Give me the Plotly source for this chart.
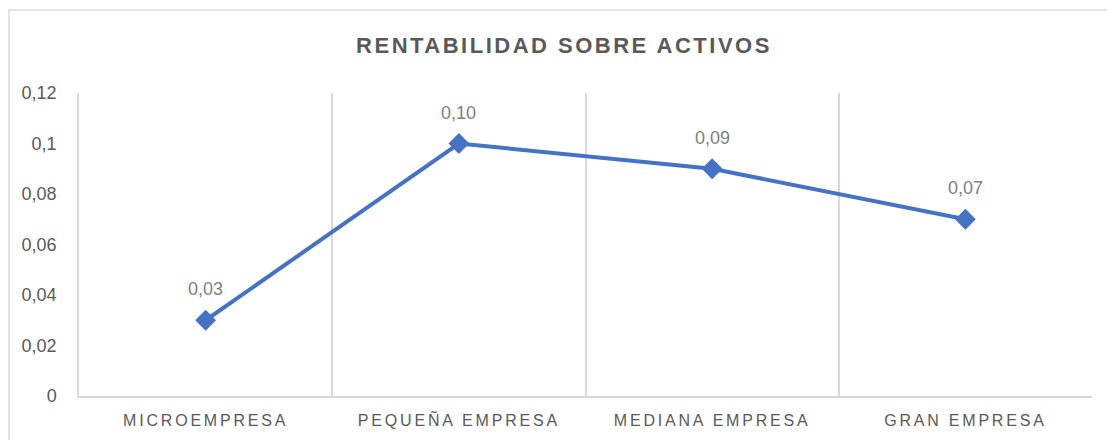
import plotly.graph_objects as go

categories = ["MICROEMPRESA", "PEQUEÑA EMPRESA", "MEDIANA EMPRESA", "GRAN EMPRESA"]
values = [0.03, 0.10, 0.09, 0.07]
value_labels = ["0,03", "0,10", "0,09", "0,07"]
y_tickvals = [0, 0.02, 0.04, 0.06, 0.08, 0.10, 0.12]
y_ticktext = ["0", "0,02", "0,04", "0,06", "0,08", "0,1", "0,12"]
title_text = "RENTABILIDAD SOBRE ACTIVOS"

FONT = "Liberation Sans Narrow, Arial Narrow, Liberation Sans, Arial, sans-serif"
W, H = 1107, 440
L, R, T, B = 79, 15, 93, 44
pw, ph = W - L - R, H - T - B

fig = go.Figure()
fig.add_trace(go.Scatter(
    x=categories, y=values, mode="lines+markers",
    line=dict(color="#4472C4", width=4),
    marker=dict(symbol="diamond", size=16, color="#4472C4"),
    hoverinfo="skip", showlegend=False,
))

for c, v, t in zip(categories, values, value_labels):
    fig.add_annotation(x=c, y=v, text=t, showarrow=False, yshift=31,
                       font=dict(family=FONT, size=18, color="#7f7f7f"))

# outer chart border (cropped at right/bottom)
fig.add_shape(type="rect", xref="paper", yref="paper",
              x0=(9 - L) / pw, x1=(1125 - L) / pw,
              y0=(H - B - 460) / ph, y1=(H - B - 10) / ph,
              line=dict(color="#d9d9d9", width=1.5), fillcolor="rgba(0,0,0,0)", layer="below")

fig.update_layout(
    width=W, height=H,
    margin=dict(l=L, r=R, t=T, b=B, autoexpand=False),
    paper_bgcolor="white", plot_bgcolor="white",
    separators=",.",
    title=dict(text="<b>" + title_text + "</b>", xref="container", yref="container",
               x=564 / W, y=1 - 45 / H, xanchor="center", yanchor="middle",
               font=dict(family=FONT, size=22, color="#595959")),
    xaxis=dict(range=[-0.5, 3.5], tickson="boundaries", showgrid=True,
               gridcolor="#d9d9d9", gridwidth=1.5, ticks="", showline=True,
               linecolor="#d9d9d9", linewidth=1.5, zeroline=False,
               tickfont=dict(family=FONT, size=16, color="#595959"),
               ticklabelstandoff=9, automargin=False),
    yaxis=dict(range=[0, 0.12], tickvals=y_tickvals, ticktext=y_ticktext,
               showgrid=False, zeroline=False, showline=True, linecolor="#d9d9d9",
               linewidth=1.5, ticks="",
               tickfont=dict(family=FONT, size=18, color="#595959"),
               ticklabelstandoff=17, automargin=False),
)

post = """
document.body.style.margin='0';
document.documentElement.style.overflow='hidden';
document.querySelectorAll('.xtick text').forEach(function(t){t.style.letterSpacing='2.8px';});
document.querySelectorAll('.gtitle').forEach(function(t){t.style.letterSpacing='2.5px';});
"""
fig.write_html("out.html", post_script=post, config={"displayModeBar": False, "responsive": False})
